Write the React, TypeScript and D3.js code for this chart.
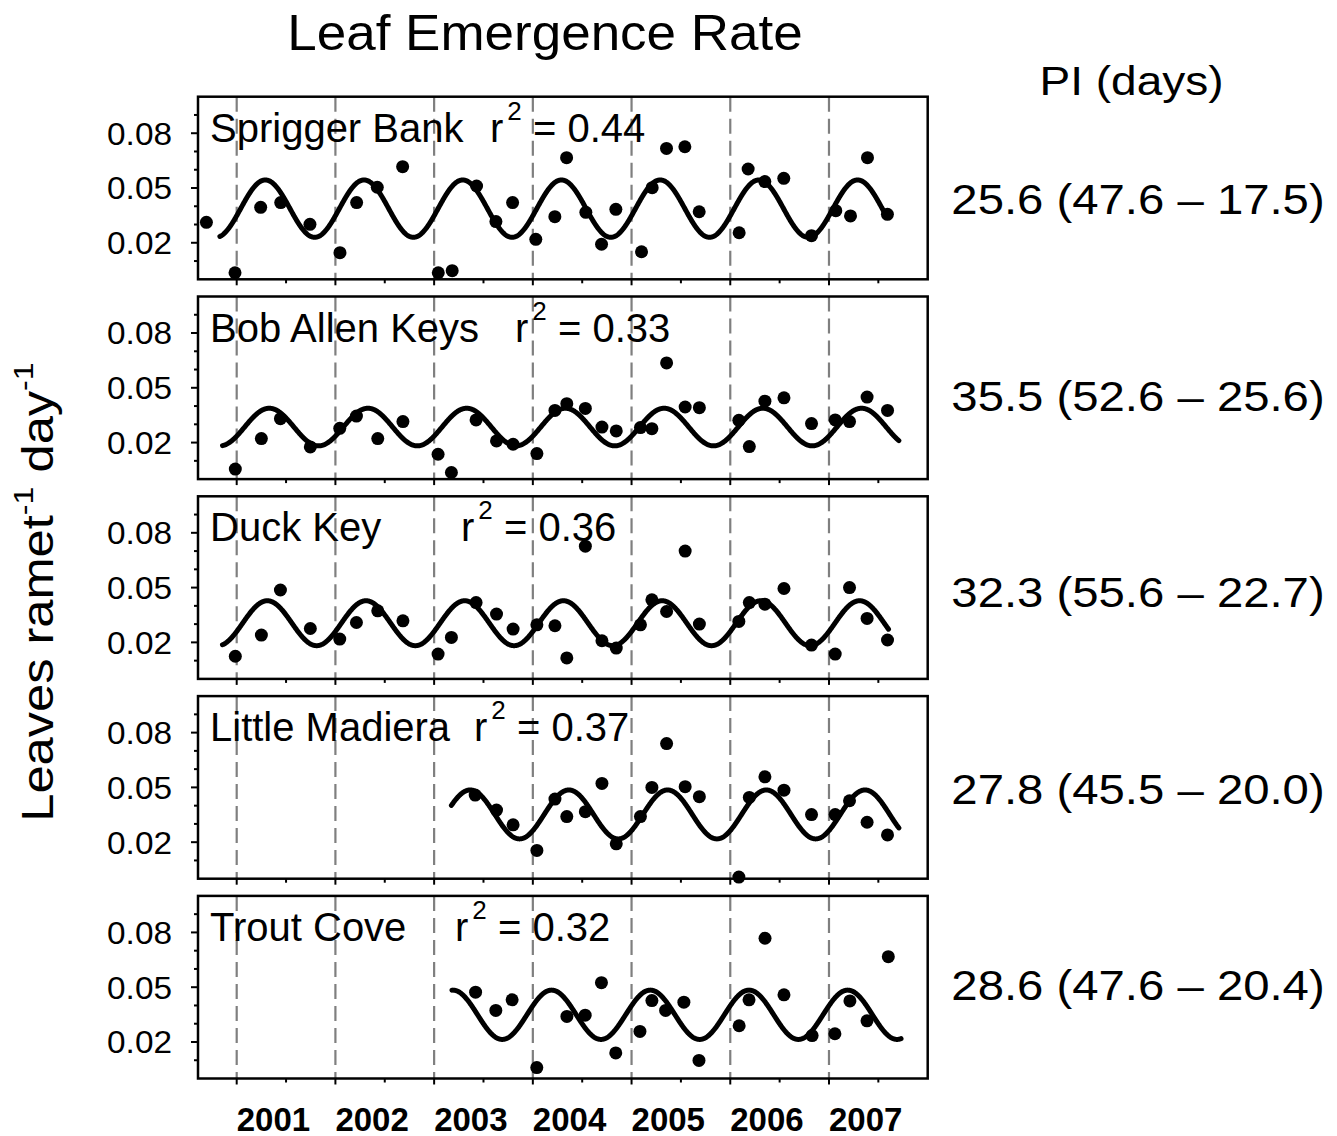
import React from 'react';
import * as d3 from 'd3';

// ---------------- data ----------------
const sites = ['Sprigger Bank', 'Bob Allen Keys', 'Duck Key', 'Little Madiera', 'Trout Cove'];
const r2Labels = ['0.44', '0.33', '0.36', '0.37', '0.32'];
const piLabels = [
  '25.6 (47.6 \u2013 17.5)',
  '35.5 (52.6 \u2013 25.6)',
  '32.3 (55.6 \u2013 22.7)',
  '27.8 (45.5 \u2013 20.0)',
  '28.6 (47.6 \u2013 20.4)',
];
const yearTicks = [2001, 2002, 2003, 2004, 2005, 2006, 2007];
const halfYearTicks = [2001.5, 2002.5, 2003.5, 2004.5, 2005.5, 2006.5, 2007.5];
const yMajorTicks = [0.02, 0.05, 0.08];
const yMinorTicks = [0.01, 0.03, 0.04, 0.06, 0.07, 0.09];

// sinusoidal fit parameters
const fitMean = [0.0387, 0.0285, 0.0305, 0.0352, 0.0349];
const fitAmp = [0.0157, 0.0103, 0.0123, 0.0134, 0.0135];
const fitPeak = [0.29, 0.33, 0.31, 0.365, 0.19];
const fitStart = [2000.83, 2000.856, 2000.856, 2003.175, 2003.18];
const fitEnd = [2007.59, 2007.708, 2007.603, 2007.708, 2007.73];

const spriggerBank: [number, number][] = [
  [2000.693, 0.0312], [2000.983, 0.0036], [2001.243, 0.0394], [2001.446, 0.042], [2001.742, 0.0301],
  [2002.046, 0.0146], [2002.215, 0.042], [2002.424, 0.0504], [2002.681, 0.0617], [2003.042, 0.0036],
  [2003.183, 0.0047], [2003.43, 0.0511], [2003.626, 0.0316], [2003.795, 0.042], [2004.03, 0.0219],
  [2004.223, 0.0343], [2004.342, 0.0666], [2004.537, 0.0367], [2004.696, 0.0192], [2004.841, 0.0383],
  [2005.101, 0.0151], [2005.209, 0.0502], [2005.354, 0.0717], [2005.54, 0.0726], [2005.685, 0.037],
  [2006.09, 0.0255], [2006.181, 0.0604], [2006.35, 0.0535], [2006.542, 0.0553], [2006.823, 0.0239],
  [2007.069, 0.0376], [2007.218, 0.0347], [2007.39, 0.0666], [2007.592, 0.0356],
];
const bobAllenKeys: [number, number][] = [
  [2000.986, 0.0055], [2001.25, 0.0222], [2001.443, 0.0331], [2001.746, 0.0176], [2002.044, 0.0278],
  [2002.213, 0.0345], [2002.429, 0.0222], [2002.684, 0.0315], [2003.04, 0.0136], [2003.175, 0.0036],
  [2003.425, 0.0324], [2003.632, 0.0209], [2003.8, 0.0191], [2004.041, 0.014], [2004.224, 0.0376],
  [2004.344, 0.0413], [2004.532, 0.0387], [2004.7, 0.0285], [2004.845, 0.0264], [2005.09, 0.0282],
  [2005.206, 0.0276], [2005.355, 0.0636], [2005.543, 0.0395], [2005.687, 0.0391], [2006.087, 0.0322],
  [2006.193, 0.0178], [2006.351, 0.0427], [2006.544, 0.0445], [2006.823, 0.0304], [2007.063, 0.0324],
  [2007.208, 0.0315], [2007.386, 0.0449], [2007.593, 0.0376],
];
const duckKey: [number, number][] = [
  [2000.986, 0.0124], [2001.25, 0.024], [2001.443, 0.0487], [2001.746, 0.0276], [2002.044, 0.0218],
  [2002.213, 0.0309], [2002.429, 0.0373], [2002.684, 0.0318], [2003.04, 0.0136], [2003.175, 0.0227],
  [2003.425, 0.0418], [2003.632, 0.0355], [2003.8, 0.0273], [2004.041, 0.0296], [2004.224, 0.0291],
  [2004.344, 0.0115], [2004.532, 0.0727], [2004.7, 0.0209], [2004.845, 0.0169], [2005.09, 0.0296],
  [2005.206, 0.0433], [2005.355, 0.0369], [2005.543, 0.07], [2005.687, 0.03], [2006.087, 0.0315],
  [2006.193, 0.0418], [2006.351, 0.0409], [2006.544, 0.0495], [2006.823, 0.0185], [2007.063, 0.0136],
  [2007.208, 0.05], [2007.386, 0.0331], [2007.593, 0.0213],
];
const littleMadiera: [number, number][] = [
  [2003.416, 0.0458], [2003.632, 0.0376], [2003.8, 0.0295], [2004.041, 0.0155], [2004.224, 0.0436],
  [2004.344, 0.034], [2004.532, 0.0367], [2004.7, 0.0522], [2004.845, 0.0191], [2005.09, 0.034],
  [2005.206, 0.05], [2005.355, 0.074], [2005.543, 0.0504], [2005.687, 0.0449], [2006.087, 0.0009],
  [2006.193, 0.0445], [2006.351, 0.0558], [2006.544, 0.0485], [2006.823, 0.0351], [2007.063, 0.0351],
  [2007.208, 0.0427], [2007.386, 0.0309], [2007.593, 0.024],
];
const troutCove: [number, number][] = [
  [2003.42, 0.0473], [2003.625, 0.0373], [2003.79, 0.0431], [2004.04, 0.006], [2004.345, 0.034],
  [2004.53, 0.0347], [2004.695, 0.0525], [2004.84, 0.014], [2005.085, 0.0258], [2005.206, 0.0427],
  [2005.345, 0.0373], [2005.53, 0.0418], [2005.683, 0.0099], [2006.09, 0.0289], [2006.19, 0.0431],
  [2006.352, 0.0768], [2006.544, 0.0458], [2006.829, 0.0235], [2007.06, 0.0245], [2007.212, 0.0425],
  [2007.385, 0.0316], [2007.601, 0.0667],
];
const sitePoints = [spriggerBank, bobAllenKeys, duckKey, littleMadiera, troutCove];

// ---------------- layout ----------------
const W = 1337;
const H = 1136;
const LEFT = 198;
const RIGHT = 927.7;
const PANEL_TOP0 = 96.7;
const PANEL_STEP = 199.8;
const PANEL_H = 182.6;
const rXPos = [490, 515, 461, 474, 455];
const piBaselines = [214, 410.5, 607, 803.5, 1000];
const FONT = "'Liberation Sans', Arial, Helvetica, sans-serif";

const x = d3.scaleLinear().domain([2000.608, 2008.0]).range([LEFT, RIGHT]);

function Panel({ k }: { k: number }) {
  const top = PANEL_TOP0 + k * PANEL_STEP;
  const bottom = top + PANEL_H;
  const y = d3.scaleLinear().domain([0, 0.1]).range([bottom, top]);
  const ts = d3.range(fitStart[k], fitEnd[k], 0.004).concat([fitEnd[k]]);
  const fit = ts.map((t) => [t, fitMean[k] + fitAmp[k] * Math.cos(2 * Math.PI * (t - fitPeak[k]))] as [number, number]);
  const line = d3.line<[number, number]>().x((d) => x(d[0])).y((d) => y(d[1]));
  const labelBase = top + 45;
  return (
    <g>
      {yearTicks.map((yr) => (
        <line key={'d' + yr} x1={x(yr)} x2={x(yr)} y1={top} y2={bottom} stroke="#7f7f7f" strokeWidth={2.2} strokeDasharray="15 7" />
      ))}
      <path d={line(fit) || ''} fill="none" stroke="#000" strokeWidth={5} strokeLinecap="round" strokeLinejoin="round" />
      {sitePoints[k].map((p, i) => (
        <circle key={i} cx={x(p[0])} cy={y(p[1])} r={6.5} fill="#000" />
      ))}
      <rect x={LEFT} y={top} width={RIGHT - LEFT} height={PANEL_H} fill="none" stroke="#000" strokeWidth={2.5} />
      {yMajorTicks.map((v) => (
        <g key={'ym' + v}>
          <line x1={LEFT - 7} x2={LEFT} y1={y(v)} y2={y(v)} stroke="#000" strokeWidth={2} />
          <g transform={`translate(172,${y(v)}) scale(1.06,1)`}>
            <text x={0} y={0} dy="0.36em" textAnchor="end" fontSize={31.5} fontFamily={FONT} fill="#000">
              {d3.format('.2f')(v)}
            </text>
          </g>
        </g>
      ))}
      {yMinorTicks.map((v) => (
        <line key={'yn' + v} x1={LEFT - 4} x2={LEFT} y1={y(v)} y2={y(v)} stroke="#000" strokeWidth={2} />
      ))}
      {yearTicks.map((yr) => (
        <line key={'xt' + yr} x1={x(yr)} x2={x(yr)} y1={bottom} y2={bottom + 6} stroke="#000" strokeWidth={2} />
      ))}
      {halfYearTicks.map((yr) => (
        <line key={'xh' + yr} x1={x(yr)} x2={x(yr)} y1={bottom} y2={bottom + 4} stroke="#000" strokeWidth={2} />
      ))}
      <text x={210} y={labelBase} fontSize={40} fontFamily={FONT} fill="#000">{sites[k]}</text>
      <text x={rXPos[k]} y={labelBase} fontSize={40} fontFamily={FONT} fill="#000">
        <tspan>r</tspan>
        <tspan dx={4} dy={-22} fontSize={26}>2</tspan>
        <tspan dy={22} fontSize={40}>{' = ' + r2Labels[k]}</tspan>
      </text>
      <g transform={`translate(1138,${piBaselines[k]}) scale(1.1,1)`}>
        <text x={0} y={0} textAnchor="middle" fontSize={43} fontFamily={FONT} fill="#000">{piLabels[k]}</text>
      </g>
    </g>
  );
}

export default function App() {
  const lastBottom = PANEL_TOP0 + 4 * PANEL_STEP + PANEL_H;
  return (
    <svg width={W} height={H} style={{ position: 'absolute', left: 0, top: 0, display: 'block', background: '#fff' }}>
      <rect x={0} y={0} width={W} height={H} fill="#fff" />
      <g transform="translate(545,50) scale(1.06,1)">
        <text x={0} y={0} textAnchor="middle" fontSize={50} fontFamily={FONT} fill="#000">Leaf Emergence Rate</text>
      </g>
      <g transform="translate(1131.5,95) scale(1.15,1)">
        <text x={0} y={0} textAnchor="middle" fontSize={40} fontFamily={FONT} fill="#000">PI (days)</text>
      </g>
      <g transform="translate(53,592) rotate(-90) scale(1.15,1)">
        <text x={0} y={0} textAnchor="middle" fontSize={44} fontFamily={FONT} fill="#000">
          <tspan>Leaves ramet</tspan>
          <tspan dy={-20} fontSize={28}>-1</tspan>
          <tspan dy={20} fontSize={44}>{' day'}</tspan>
          <tspan dy={-20} fontSize={28}>-1</tspan>
        </text>
      </g>
      {sites.map((_, k) => (
        <Panel key={k} k={k} />
      ))}
      {yearTicks.map((yr) => (
        <text key={'yl' + yr} x={x(yr)} y={lastBottom + 52} textAnchor="start" fontSize={33} fontWeight="bold" fontFamily={FONT} fill="#000">
          {String(yr)}
        </text>
      ))}
    </svg>
  );
}
